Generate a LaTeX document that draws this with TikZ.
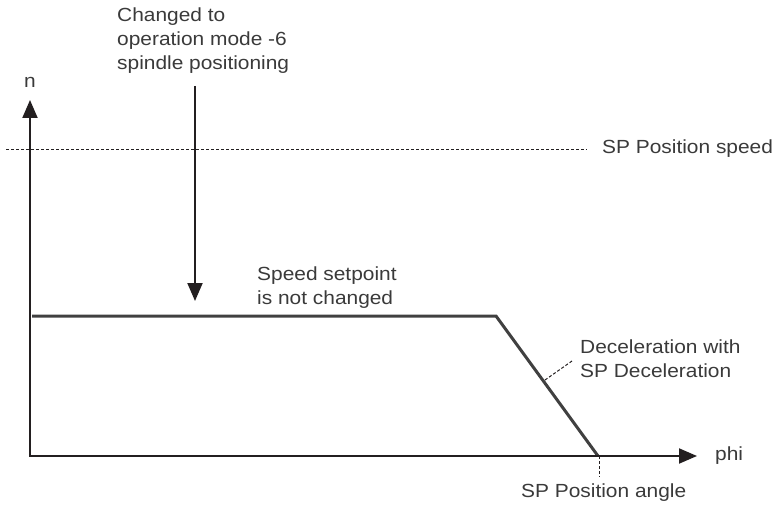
\documentclass[tikz,border=0pt]{standalone}
\usepackage{fontspec}
\setmainfont[FakeStretch=1.1]{Liberation Sans}
\usetikzlibrary{arrows.meta}
\definecolor{txt}{HTML}{3A3A3A}
\definecolor{axis}{HTML}{231F20}
\definecolor{curve}{HTML}{404040}
\tikzset{
  lbl/.style={inner sep=0pt, text=txt, font=\fontsize{19}{24}\selectfont, align=left},
  axisline/.style={draw=axis, line width=2pt, -{Triangle[length=18pt,width=15pt]}},
  speedline/.style={draw=curve, line width=3pt},
  thindash/.style={draw=axis, line width=1pt, dash pattern=on 3pt off 2pt},
}
\begin{document}
\begin{tikzpicture}[x=1pt,y=-1pt]
\useasboundingbox (0,0) rectangle (775,510);
% coordinates
\coordinate (O) at (30,456);
\coordinate (Ytop) at (30,100);
\coordinate (Xend) at (697,456);
\coordinate (Xstart) at (29,456);
\coordinate (Astart) at (195,86);
\coordinate (Aend) at (195,301);
\coordinate (S0) at (32,316);
\coordinate (S1) at (496,316);
\coordinate (S2) at (598,456);
\coordinate (D0) at (6,150);
\coordinate (D1) at (587,150);
\coordinate (L0) at (545,380);
\coordinate (L1) at (572,361);
\coordinate (V0) at (599.5,456);
\coordinate (V1) at (599.5,477);
% texts
\node[lbl, anchor=west] (chg) at (117,41) {Changed to\\operation mode -6\\spindle positioning};
\node[lbl] (n) at (30,82) {n};
\node[lbl, anchor=west] (phi) at (715,456) {phi};
\node[lbl, anchor=west] (sps) at (602,149) {SP Position speed};
\node[lbl, anchor=west] (ssp) at (257,288) {Speed setpoint\\is not changed};
\node[lbl, anchor=west] (dec) at (580,359) {Deceleration with\\SP Deceleration};
\node[lbl, anchor=west] (spa) at (521,493) {SP Position angle};
% lines
\draw[thindash] (D0) -- (D1);
\draw[speedline, line join=miter] (S0) -- (S1) -- (S2);
\draw[axisline] (O) -- (Ytop);
\draw[axisline] (Xstart) -- (Xend);
\draw[axisline] (Astart) -- (Aend);
\draw[thindash] (L0) -- (L1);
\draw[thindash] (V0) -- (V1);
\end{tikzpicture}
\end{document}
